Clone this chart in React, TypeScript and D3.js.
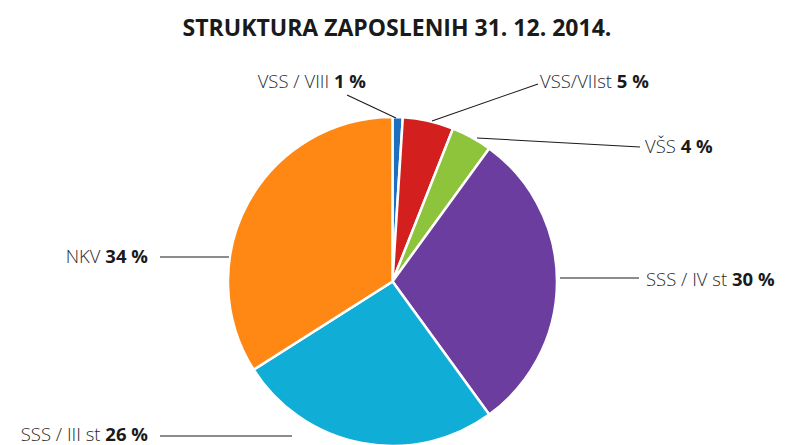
import React from "react";
import * as d3 from "d3";

const categories = ["VSS / VIII", "VSS/VIIst", "VŠS", "SSS / IV st", "SSS / III st", "NKV"];
const values = [1, 5, 4, 30, 26, 34];
const colors = ["#1e6fc0", "#d41f1f", "#8dc43c", "#6a3d9e", "#10aed7", "#ff8714"];
const title = "STRUKTURA ZAPOSLENIH 31. 12. 2014.";

// label layout: text anchor point and leader line (x1,y1 -> x2,y2)
const labelLayout = [
  { tx: 366, ty: 88, anchor: "end", line: [347, 95, 396, 118] },
  { tx: 540, ty: 88, anchor: "start", line: [538, 84, 432, 121] },
  { tx: 645, ty: 153, anchor: "start", line: [640, 147, 477, 138] },
  { tx: 646, ty: 286, anchor: "start", line: [639, 278, 560, 278] },
  { tx: 148, ty: 441, anchor: "end", line: [160, 436, 292, 436] },
  { tx: 148, ty: 263, anchor: "end", line: [160, 257, 229, 257] },
];

const W = 787;
const H = 445;
const cx = 392.5;
const cy = 281.5;
const R = 164.5;

export default function App() {
  const pie = d3.pie<number>().sort(null).value((d) => d)(values);
  const arc = d3.arc<d3.PieArcDatum<number>>().innerRadius(0).outerRadius(R);
  const font = "'Open Sans', 'DejaVu Sans', sans-serif";
  return (
    <svg
      width={W}
      height={H}
      style={{ position: "absolute", left: 0, top: 0, background: "#fff" }}
    >
      <text
        x={397}
        y={36}
        textAnchor="middle"
        fontFamily={font}
        fontWeight={700}
        fontSize={23}
        fill="#1a1a1a"
      >
        {title}
      </text>
      <g transform={`translate(${cx},${cy})`}>
        {pie.map((p, i) => (
          <path key={i} d={arc(p) || ""} fill={colors[i]} stroke="#fff" strokeWidth={2.5} />
        ))}
      </g>
      {labelLayout.map((l, i) => (
        <g key={i}>
          <line
            x1={l.line[0]}
            y1={l.line[1]}
            x2={l.line[2]}
            y2={l.line[3]}
            stroke="#1a1a1a"
            strokeWidth={1.1}
          />
          <text
            x={l.tx}
            y={l.ty}
            textAnchor={l.anchor}
            fontFamily={font}
            fontSize={18.5}
            fontWeight={300}
            fill="#2a2a2a"
          >
            {categories[i]}{" "}
            <tspan fontWeight={700} fill="#1a1a1a">{values[i]} %</tspan>
          </text>
        </g>
      ))}
    </svg>
  );
}
